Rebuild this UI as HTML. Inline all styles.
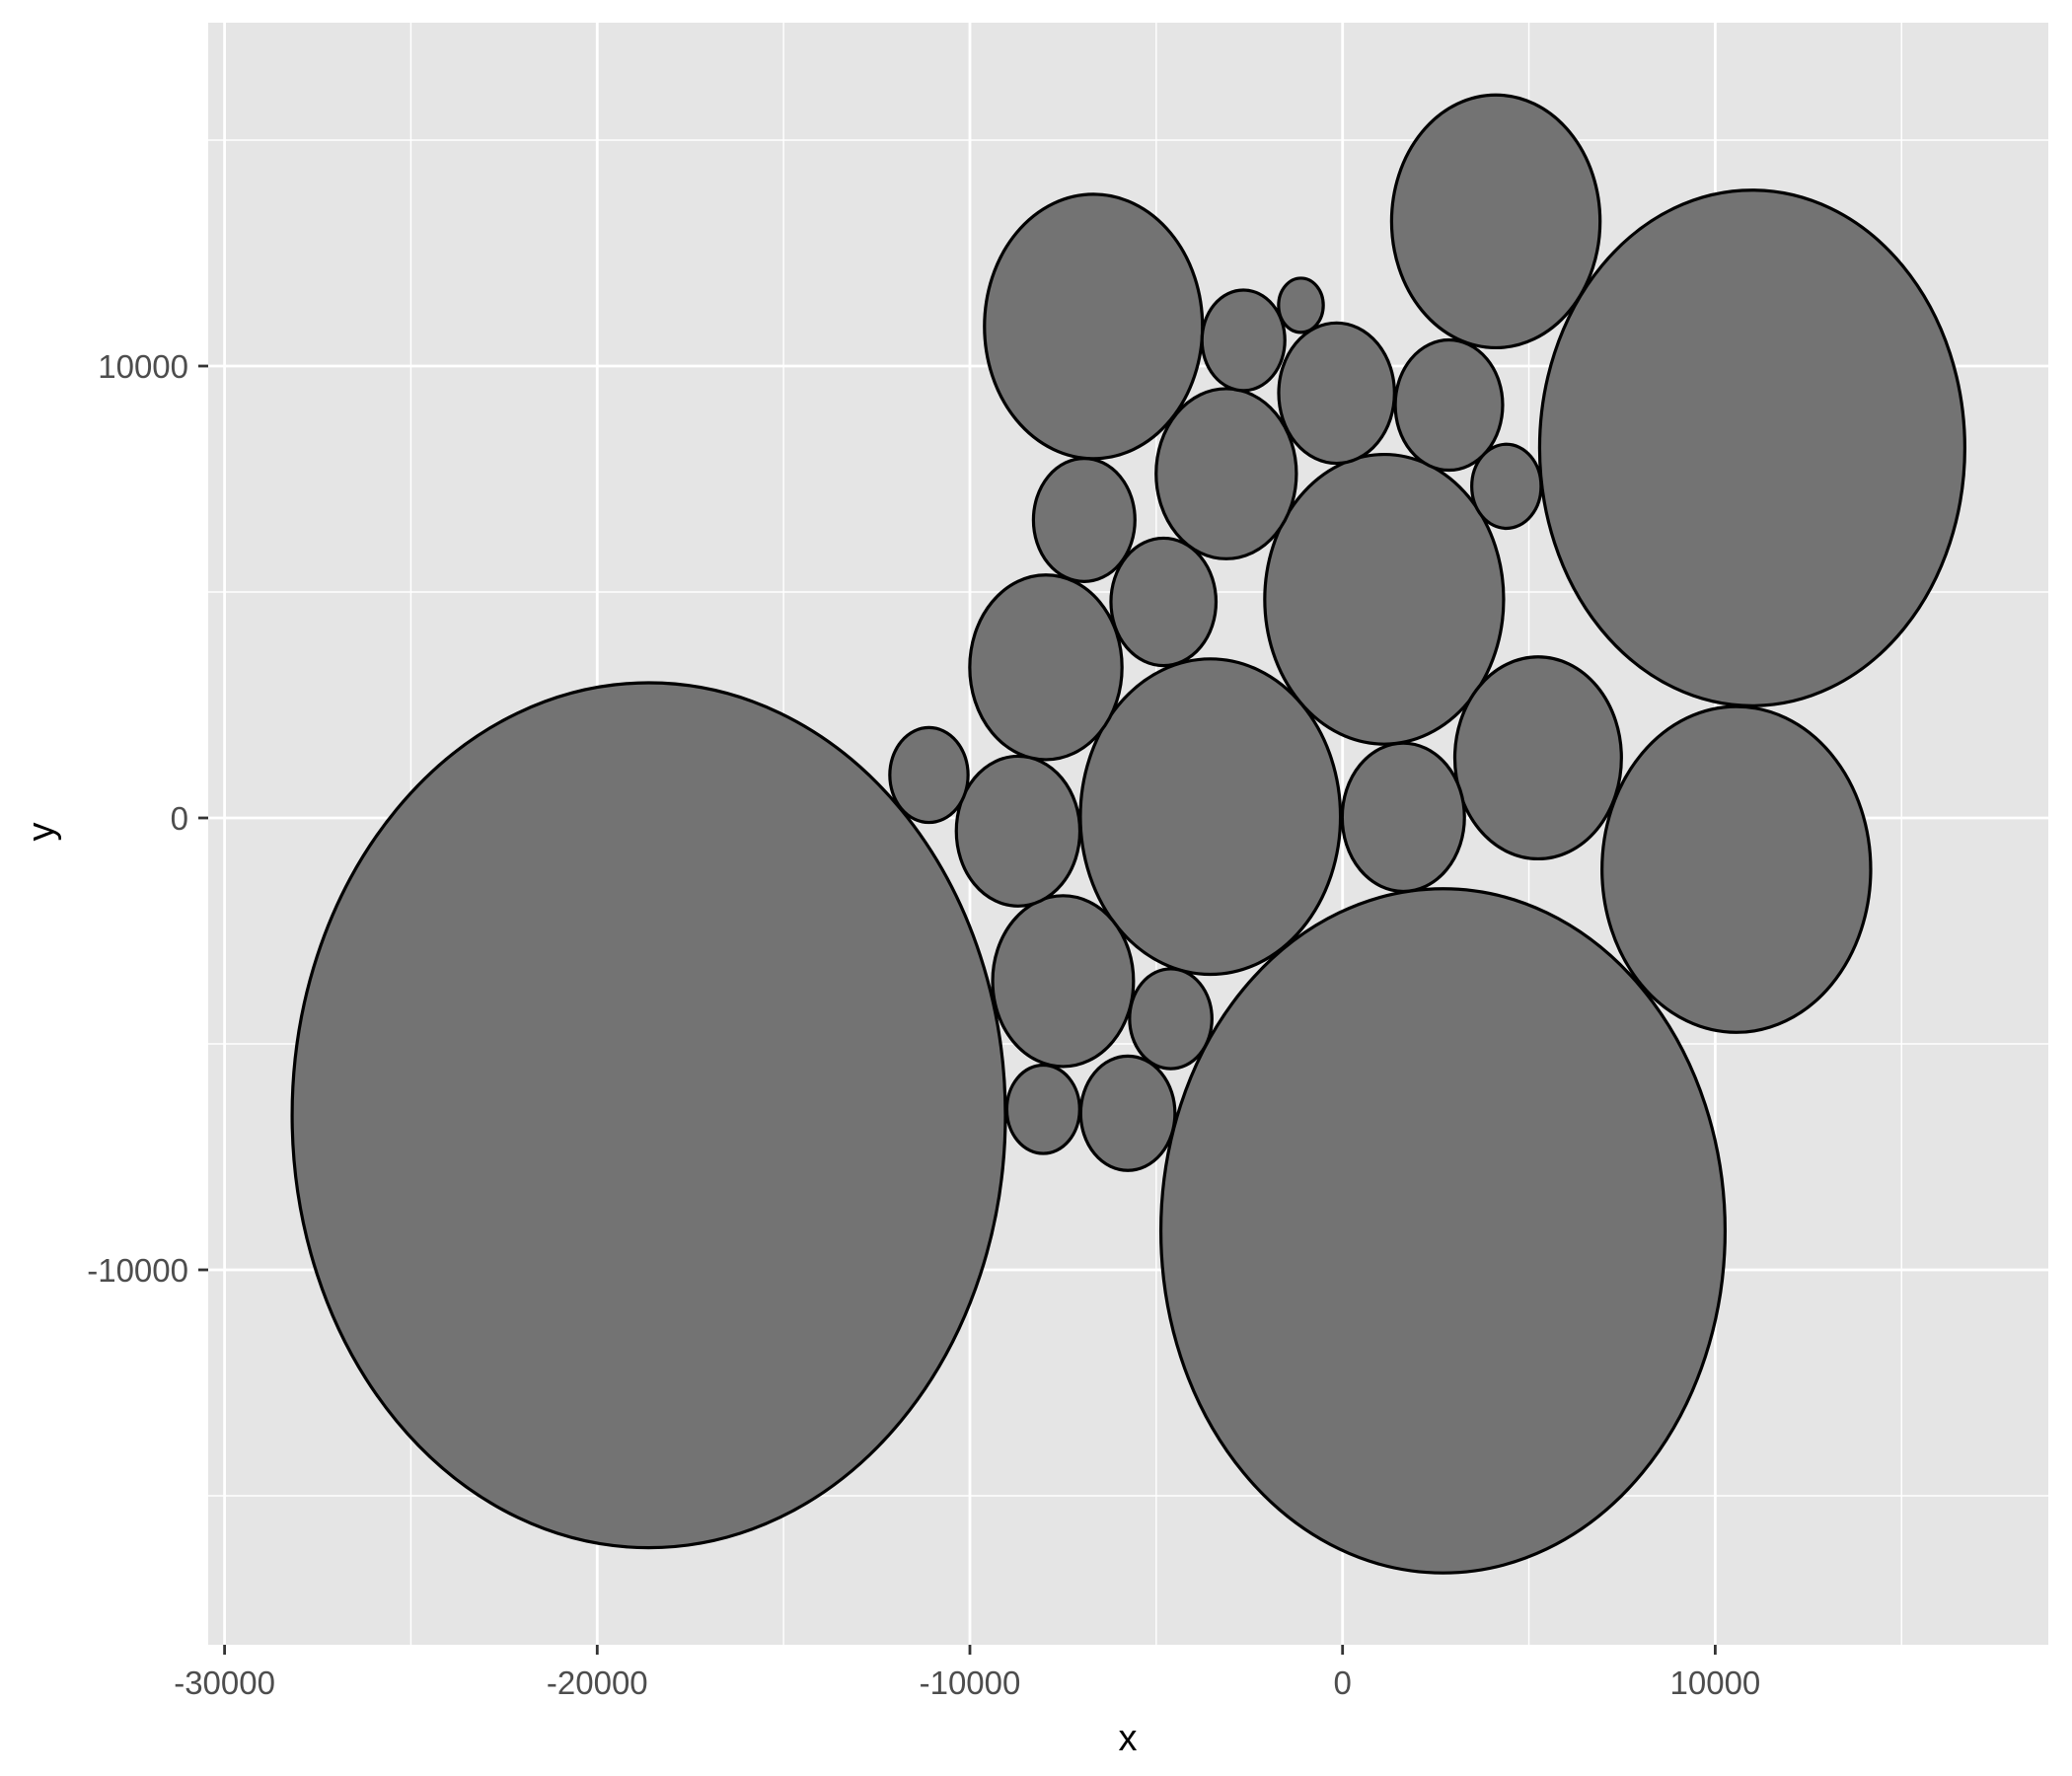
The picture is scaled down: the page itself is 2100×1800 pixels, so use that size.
<!DOCTYPE html>
<html><head><meta charset="utf-8"><style>
html,body{margin:0;padding:0;background:#fff;}
svg{display:block;font-family:"Liberation Sans",sans-serif;}
</style></head><body>
<svg id="chart" width="2100" height="1800" viewBox="0 0 2100 1800" xmlns="http://www.w3.org/2000/svg">
<rect x="0" y="0" width="2100" height="1800" fill="#fff"/>
<rect x="211" y="23" width="1865" height="1644" fill="#e5e5e5"/>
<g id="grid"></g>
<g id="circles"></g>
<g id="axes"></g>
<text x="1143" y="1774" font-size="38" text-anchor="middle" fill="#000">x</text>
<text x="0" y="0" font-size="38" text-anchor="middle" fill="#000" transform="translate(54,843) rotate(-90)">y</text>
</svg>
<script>
const cxs=[-18617,2695,10993,10567,4113,-3546,1117,-6684,-7961,5248,-3121,-7500,-8706,1631,-160,-4805,-6933,2855,-5762,-2660,-4610,-8032,-11099,4397,-1117];
const cys=[-6579,-9137,8187,-1140,13202,29,4839,10877,3333,1330,7617,-3611,-292,15,9401,4781,6594,9137,-6535,10570,-4444,-6447,950,7339,11345];
const radii=[9570,7570,5705,3605,2797,3490,3205,2925,2043,2235,1882,1890,1658,1640,1553,1410,1362,1441,1265,1112,1105,978,1050,930,600];
const xTicks=[-30000,-20000,-10000,0,10000];
const xMinor=[-25000,-15000,-5000,5000,15000];
const yTicks=[-10000,0,10000];
const yMinor=[-15000,-5000,5000,15000];
const PL=211,PR=2076,PT=23,PB=1667;
const X0=1360.7,XS=377.7/10000,Y0=829,YS=458/10000;
const sx=v=>X0+v*XS, sy=v=>Y0-v*YS;
const NS="http://www.w3.org/2000/svg";
function mk(tag,parent,attrs){const e=document.createElementNS(NS,tag);for(const k in attrs)e.setAttribute(k,attrs[k]);parent.appendChild(e);return e;}
const grid=document.getElementById('grid');
xMinor.forEach(v=>{const l=mk('line',grid,{x1:sx(v),x2:sx(v),y1:PT,y2:PB,stroke:'#fff','stroke-width':1.4});

});
yMinor.forEach(v=>{const l=mk('line',grid,{x1:PL,x2:PR,y1:sy(v),y2:sy(v),stroke:'#fff','stroke-width':1.4});

});
xTicks.forEach(v=>{const l=mk('line',grid,{x1:sx(v),x2:sx(v),y1:PT,y2:PB,stroke:'#fff','stroke-width':2.8});

});
yTicks.forEach(v=>{const l=mk('line',grid,{x1:PL,x2:PR,y1:sy(v),y2:sy(v),stroke:'#fff','stroke-width':2.8});

});
const cg=document.getElementById('circles');
radii.forEach((r,i)=>{const e=mk('ellipse',cg,{cx:sx(cxs[i]),cy:sy(cys[i]),rx:r*XS,ry:r*YS,fill:'#737373',stroke:'#000','stroke-width':3.2});

});
const ax=document.getElementById('axes');
xTicks.forEach(v=>{const l=mk('line',ax,{x1:sx(v),x2:sx(v),y1:PB,y2:PB+10,stroke:'#333','stroke-width':2.8});


const t=mk('text',ax,{x:sx(v),y:PB+50,'font-size':33,'text-anchor':'middle',fill:'#4d4d4d'});t.textContent=v;

});
yTicks.forEach(v=>{const l=mk('line',ax,{x1:PL-10,x2:PL,y1:sy(v),y2:sy(v),stroke:'#333','stroke-width':2.8});


const t=mk('text',ax,{x:PL-20,y:sy(v)+12,'font-size':33,'text-anchor':'end',fill:'#4d4d4d'});t.textContent=v;

});
</script>
</body></html>
